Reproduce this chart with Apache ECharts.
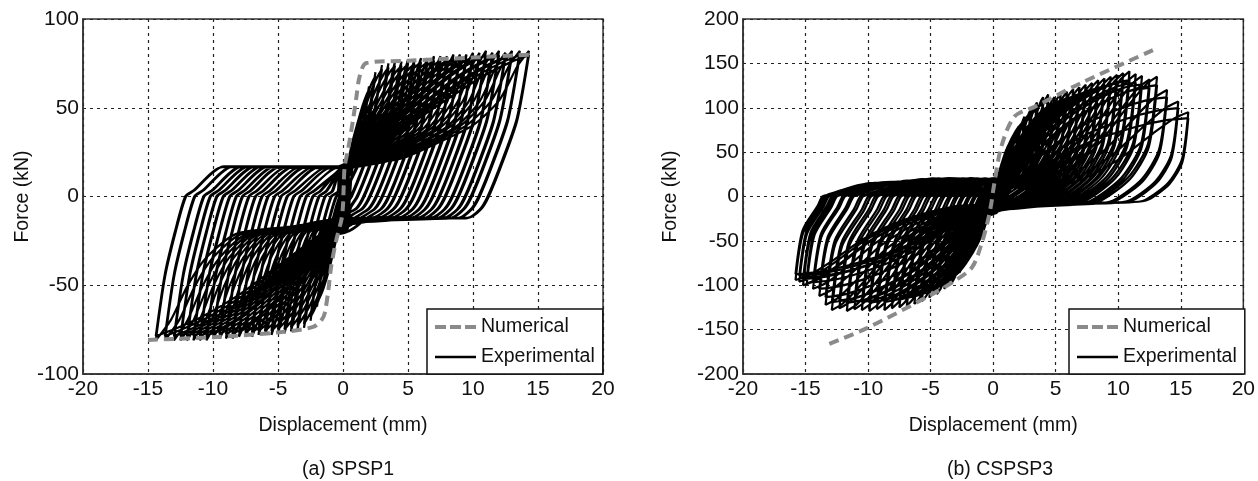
<!DOCTYPE html>
<html>
<head>
<meta charset="utf-8">
<script src="https://cdn.jsdelivr.net/npm/echarts@6/dist/echarts.min.js"></script>
<style>
  html, body { margin: 0; padding: 0; background: #fff; }
  #chart { width: 1258px; height: 481px; }
</style>
</head>
<body>
<div id="chart"></div>
<script>
// ---------- axis ticks ----------
const dispTicks = [-20, -15, -10, -5, 0, 5, 10, 15, 20];
const forceTicksA = [-100, -50, 0, 50, 100];
const forceTicksB = [-200, -150, -100, -50, 0, 50, 100, 150, 200];

// ---------- (a) SPSP1 ----------
// cycle peaks: [displacement mm, force kN, pinched plateau force after unloading kN]
const spsp1Pos = [
  [0.5, 18, -8], [1.0, 35, -10], [1.5, 50, -11], [2.0, 62, -12], [2.5, 70, -13],
  [3.0, 74, -13], [3.5, 75, -14], [4.0, 76, -18], [4.5, 76, -15], [5.0, 77, -19],
  [5.5, 77, -16], [6.0, 78, -17], [6.5, 78, -20], [7.0, 79, -15], [7.5, 79, -14],
  [8.0, 79, -16], [8.5, 80, -15], [9.0, 80, -14], [9.5, 80, -13], [10.0, 81, -15],
  [10.5, 81, -14], [11.0, 82, -13], [11.5, 81, -14], [12.0, 82, -13], [12.5, 81, -14],
  [13.0, 82, -13], [13.6, 82, -12], [14.3, 82, -12]
];
const spsp1Neg = [
  [-0.5, -18, 8], [-1.0, -35, 10], [-1.5, -50, 11], [-2.0, -62, 12], [-2.5, -70, 13],
  [-3.0, -74, 13], [-3.5, -75, 14], [-4.0, -76, 14], [-4.5, -77, 15], [-5.0, -77, 15],
  [-5.5, -78, 16], [-6.0, -78, 16], [-6.5, -78, 17], [-7.0, -79, 16], [-7.5, -79, 17],
  [-8.0, -79, 16], [-8.5, -80, 17], [-9.0, -80, 16], [-9.5, -80, 17], [-10.0, -80, 16],
  [-10.5, -81, 17], [-11.0, -81, 16], [-11.5, -81, 17], [-12.0, -81, 16], [-12.5, -81, 17],
  [-13.0, -81, 16], [-13.7, -81, 17], [-14.4, -81, 17]
];
// loop knots: reload [fraction of peak disp, fraction of peak force],
// unload [mm back from peak per ref force, fraction of peak force];
// each amplitude is run twice, the repeat cycle with its own reload knots
const spsp1Shape = {
  ref: 80,
  reloadPos: [[0.31, 0.26], [0.52, 0.375], [0.70, 0.49], [0.84, 0.66], [0.94, 0.9]],
  unloadPos: [[0.9, 0.54], [2.0, 0.25], [3.1, 0.0], [3.7, -0.09], [4.7, -0.15]],
  reloadNeg: [[0.28, 0.21], [0.57, 0.26], [0.73, 0.425], [0.83, 0.62], [0.92, 0.86]],
  unloadNeg: [[0.7, 0.56], [1.5, 0.25], [2.3, 0.0], [2.9, -0.04], [5.2, -0.21]],
  repeatForce: 0.97,
  repeatPos: [[0.15, 0.3], [0.35, 0.5], [0.55, 0.68], [0.75, 0.85], [0.9, 0.95]],
  repeatNeg: [[0.15, 0.3], [0.35, 0.5], [0.55, 0.7], [0.75, 0.86], [0.9, 0.95]]
};
const spsp1Numerical = [
  [-15.0, -80.8], [-10, -79.3], [-4.9, -76.5], [-2.3, -73.5], [-1.6, -69], [-1.4, -65.6],
  [-1.15, -54], [-0.9, -39], [-0.5, -24], [-0.12, -13], [0, -5], [0.05, 5], [0.13, 17],
  [0.38, 26], [0.77, 43], [1.03, 56], [1.28, 67.6], [1.8, 75.2], [5, 76.5], [10, 78.3], [14.6, 80]
];

// ---------- (b) CSPSP3 ----------
const cspsp3Pos = [
  [0.4, 18, -8], [0.8, 34, -10], [1.2, 50, -12], [1.6, 65, -13], [2.0, 78, -14],
  [2.5, 90, -15], [3.0, 98, -15], [3.5, 106, -16], [4.0, 112, -16], [4.4, 115, -17],
  [4.9, 112, -17], [5.4, 116, -16], [5.9, 118, -17], [6.4, 121, -18], [6.9, 123, -16],
  [7.4, 126, -17], [7.9, 128, -16], [8.4, 131, -17], [8.9, 133, -16], [9.4, 135, -15],
  [9.9, 137, -16], [10.4, 139, -15], [10.9, 141, -14], [11.4, 138, -15], [11.9, 136, -14],
  [12.5, 132, -13], [13.1, 135, -12], [13.9, 120, -11], [14.8, 107, -10], [15.6, 95, -9]
];
const cspsp3Neg = [
  [-0.4, -18, 8], [-0.8, -34, 10], [-1.2, -48, 12], [-1.7, -64, 14], [-2.2, -76, 15],
  [-2.7, -86, 16], [-3.3, -97, 17], [-3.9, -104, 17], [-4.5, -110, 18], [-5.1, -114, 18],
  [-5.7, -118, 19], [-6.3, -121, 18], [-6.9, -123, 19], [-7.5, -125, 20], [-8.1, -126, 19],
  [-8.7, -128, 20], [-9.3, -127, 19], [-9.9, -129, 18], [-10.5, -128, 19], [-11.1, -127, 18],
  [-11.7, -129, 19], [-12.3, -126, 18], [-12.9, -128, 17], [-13.4, -122, 18], [-13.9, -112, 17],
  [-14.4, -104, 18], [-14.9, -98, 17], [-15.2, -100, 18], [-15.5, -96, 17], [-15.8, -94, 18]
];
const cspsp3Shape = {
  ref: 94,
  reloadPos: [[0.2, 0.08], [0.45, 0.2], [0.65, 0.45], [0.82, 0.75], [0.93, 0.93]],
  unloadPos: [[0.5, 0.44], [1.6, 0.16], [3.4, -0.04], [4.7, -0.07]],
  reloadNeg: [[0.2, 0.12], [0.45, 0.28], [0.65, 0.5], [0.82, 0.78], [0.93, 0.94]],
  unloadNeg: [[0.6, 0.44], [1.9, 0.12], [2.3, 0.0], [2.7, -0.02], [3.9, -0.08], [5.9, -0.16]],
  repeatForce: 0.93,
  repeatPos: [[0.15, 0.2], [0.3, 0.45], [0.5, 0.7], [0.72, 0.88], [0.88, 0.97]],
  repeatNeg: [[0.15, 0.22], [0.3, 0.45], [0.5, 0.7], [0.72, 0.88], [0.88, 0.97]]
};
const cspsp3Numerical = [
  [-13.1, -166], [-10.05, -148], [-5.2, -112.6], [-3.3, -97], [-1.7, -80], [-0.9, -52],
  [-0.4, -26], [-0.15, -8], [0.05, 11], [0.65, 56], [1.7, 90], [3.3, 101], [7.0, 127.7], [12.95, 166]
];

// one half-cycle pair: load to the positive peak, unload, load to the negative peak, unload
function addCycle(pts, p, n, shape, relPos, relNeg, k) {
  const [a, fp0, qp] = p;
  const [b, fn0, qn] = n;
  const fp = fp0 * k, fn = fn0 * k;
  for (const [xf, ff] of relPos) pts.push([a * xf, fp * ff]);
  pts.push([a, fp]);
  const sp = fp / shape.ref;
  for (const [dx, ff] of shape.unloadPos) {
    const x = a - dx * sp;
    if (x > -0.2) pts.push([x, fp * ff]);
  }
  pts.push([Math.min(0.3, pts[pts.length - 1][0]), qp]);
  for (const [xf, ff] of relNeg) pts.push([b * xf, fn * ff]);
  pts.push([b, fn]);
  const sn = -fn / shape.ref;
  for (const [dx, ff] of shape.unloadNeg) {
    const x = b + dx * sn;
    if (x < 0.2) pts.push([x, fn * ff]);
  }
  pts.push([Math.max(-0.3, pts[pts.length - 1][0]), qn]);
}

// chains every cycle into one continuous load path
function hysteresis(pos, neg, shape) {
  const pts = [[0, 0]];
  for (let i = 0; i < pos.length; i++) {
    addCycle(pts, pos[i], neg[i], shape, shape.reloadPos, shape.reloadNeg, 1);
    addCycle(pts, pos[i], neg[i], shape, shape.repeatPos, shape.repeatNeg, shape.repeatForce);
  }
  return pts;
}

const FONT = 'Liberation Sans, Arial, sans-serif';

function xAxisFor(gridIndex) {
  return {
    type: 'value', gridIndex, min: -20, max: 20, interval: 5,
    axisLine: { show: true, onZero: false, lineStyle: { color: '#333', width: 1.5 } },
    axisTick: { show: false },
    axisLabel: { color: '#111', fontFamily: FONT, fontSize: 21, margin: 5,
      formatter: v => dispTicks.includes(v) ? String(v) : '' },
    splitLine: { show: true, lineStyle: { color: '#222', type: [3, 4], width: 1.2 } },
    name: 'Displacement (mm)', nameLocation: 'middle', nameGap: 42,
    nameTextStyle: { color: '#111', fontFamily: FONT, fontSize: 19.5 }
  };
}
function yAxisFor(gridIndex, ticks, interval, gap) {
  return {
    type: 'value', gridIndex, min: ticks[0], max: ticks[ticks.length - 1], interval,
    axisLine: { show: true, onZero: false, lineStyle: { color: '#333', width: 1.5 } },
    axisTick: { show: false },
    axisLabel: { color: '#111', fontFamily: FONT, fontSize: 21, margin: 4,
      formatter: v => ticks.includes(v) ? String(v) : '' },
    splitLine: { show: true, lineStyle: { color: '#222', type: [3, 4], width: 1.2 } },
    name: 'Force (kN)', nameLocation: 'middle', nameGap: gap,
    nameTextStyle: { color: '#111', fontFamily: FONT, fontSize: 19.5 }
  };
}
// legend keys: a dashed grey bar and a solid black bar
const DASH_ICON = 'path://M0,0h11v4h-11zM15,0h11v4h-11zM30,0h11v4h-11z';
const LINE_ICON = 'path://M0,0h41v2.6h-41z';
function legendAt(left) {
  return {
    data: [
      { name: 'Numerical', icon: DASH_ICON, itemStyle: { color: '#8a8a8a' } },
      { name: 'Experimental', icon: LINE_ICON, itemStyle: { color: '#000' } }
    ],
    orient: 'vertical', left, top: 309,
    padding: [8, 8, 7, 8], itemGap: 10, itemWidth: 41, itemHeight: 20,
    backgroundColor: '#fff', borderColor: '#111', borderWidth: 1.5, borderRadius: 0,
    textStyle: { color: '#111', fontFamily: FONT, fontSize: 19.5 },
    selectedMode: false
  };
}
function expSeries(idx, data) {
  return {
    name: 'Experimental', type: 'line', xAxisIndex: idx, yAxisIndex: idx, data,
    symbol: 'none', smooth: 0.25, lineStyle: { color: '#000', width: 2.2 },
    itemStyle: { color: '#000' }, z: 2, silent: true
  };
}
function numSeries(idx, data) {
  return {
    name: 'Numerical', type: 'line', xAxisIndex: idx, yAxisIndex: idx, data,
    symbol: 'none', smooth: 0.3, lineStyle: { color: '#8a8a8a', width: 4, type: [10, 6] },
    itemStyle: { color: '#8a8a8a' }, z: 3, silent: true
  };
}

const chart = echarts.init(document.getElementById('chart'), null, { renderer: 'canvas' });
chart.setOption({
  animation: false,
  backgroundColor: '#fff',
  title: [
    { text: '(a) SPSP1', left: 343, top: 455, textAlign: 'center',
      textStyle: { color: '#111', fontFamily: FONT, fontSize: 19.5, fontWeight: 'normal' } },
    { text: '(b) CSPSP3', left: 995, top: 455, textAlign: 'center',
      textStyle: { color: '#111', fontFamily: FONT, fontSize: 19.5, fontWeight: 'normal' } }
  ],
  grid: [
    { left: 83, top: 19, width: 520, height: 355, show: true, borderColor: '#333', borderWidth: 1.5, backgroundColor: 'transparent' },
    { left: 743, top: 19, width: 504, height: 355, show: true, borderColor: '#333', borderWidth: 1.5, backgroundColor: 'transparent' }
  ],
  xAxis: [xAxisFor(0), xAxisFor(1)],
  yAxis: [yAxisFor(0, forceTicksA, 50, 50), yAxisFor(1, forceTicksB, 50, 62)],
  legend: [legendAt(427), legendAt(1069)],
  series: [
    expSeries(0, hysteresis(spsp1Pos, spsp1Neg, spsp1Shape)),
    numSeries(0, spsp1Numerical),
    expSeries(1, hysteresis(cspsp3Pos, cspsp3Neg, cspsp3Shape)),
    numSeries(1, cspsp3Numerical)
  ]
});
</script>
</body>
</html>
